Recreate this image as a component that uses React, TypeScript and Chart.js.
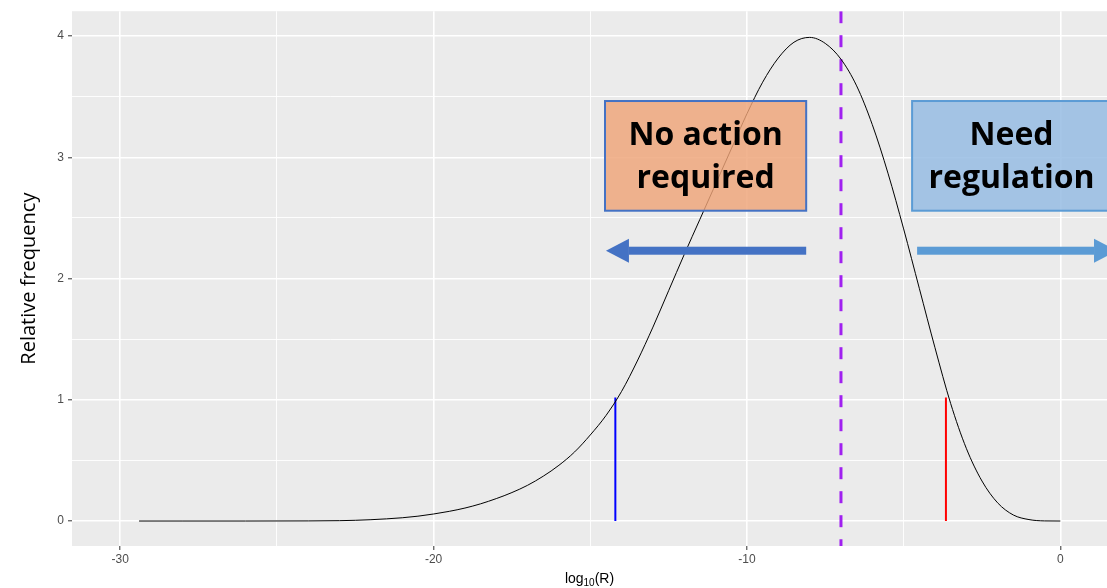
import React, { useEffect, useRef } from "react";
import { Chart, registerables } from "chart.js";

Chart.register(...registerables);

// Density of log10(R)
const curveX = [
  -29.4, -28, -26, -24, -23, -22.5, -22, -21.5, -21, -20.5, -20, -19.5, -19, -18.5, -18, -17.5, -17,
  -16.5, -16, -15.5, -15, -14.5, -14, -13.5, -13, -12.5, -12, -11.5, -11, -10.5, -10, -9.5, -9, -8.5,
  -8, -7.5, -7, -6.5, -6, -5.5, -5, -4.5, -4, -3.5, -3, -2.5, -2, -1.5, -1, -0.5, 0,
];
const curveY = [
  0, 0, 0, 0.001, 0.003, 0.006, 0.011, 0.018, 0.027, 0.04, 0.058, 0.08, 0.107, 0.142, 0.185, 0.235,
  0.295, 0.37, 0.46, 0.57, 0.71, 0.87, 1.07, 1.32, 1.6, 1.9, 2.2, 2.49, 2.78, 3.07, 3.36, 3.62, 3.82,
  3.95, 3.99, 3.94, 3.81, 3.59, 3.27, 2.87, 2.41, 1.92, 1.43, 0.97, 0.6, 0.33, 0.15, 0.05, 0.012,
  0.001, 0,
];

// Reference lines
const lowerLimitX = -14.2;
const upperLimitX = -3.65;
const limitHeight = 1.02;
const thresholdX = -7;

// Axes
const xRange = [-31.54, 1.49];
const yRange = [-0.206, 4.206];
const xMajorTicks = [-30, -20, -10, 0];
const xMinorTicks = [-25, -15, -5];
const yMajorTicks = [0, 1, 2, 3, 4];
const yMinorTicks = [0.5, 1.5, 2.5, 3.5];

// Call-out boxes and arrows (data units)
const boxLabels = [["No action", "required"], ["Need", "regulation"]];
const boxXFrom = [-14.53, -4.73];
const boxXTo = [-8.11, 1.62];
const boxYFrom = [2.56, 2.56];
const boxYTo = [3.465, 3.465];
const boxFills = ["rgba(238,164,120,0.82)", "rgba(146,186,226,0.82)"];
const boxStrokes = ["#4472C4", "#5B9BD5"];
const arrowFrom = [-8.11, -4.57];
const arrowTo = [-14.5, 1.81];
const arrowY = [2.23, 2.23];
const arrowColors = ["#4472C4", "#5B9BD5"];

const isMajor = (v: number, majors: number[]) => majors.some((m) => Math.abs(m - v) < 1e-9);

const panelPlugin = {
  id: "panelBackground",
  beforeDraw(chart: any) {
    const { ctx, chartArea: a } = chart;
    ctx.save();
    ctx.fillStyle = "#EBEBEB";
    ctx.fillRect(a.left, a.top, a.right - a.left, a.bottom - a.top);
    ctx.restore();
  },
};

const calloutPlugin = {
  id: "callouts",
  afterDatasetsDraw(chart: any) {
    const { ctx } = chart;
    const xs = chart.scales.x;
    const ys = chart.scales.y;
    ctx.save();
    // arrows
    for (let i = 0; i < arrowFrom.length; i++) {
      const x0 = xs.getPixelForValue(arrowFrom[i]);
      const x1 = xs.getPixelForValue(arrowTo[i]);
      const y = ys.getPixelForValue(arrowY[i]);
      const dir = Math.sign(x1 - x0);
      const headLen = 23;
      const headHalf = 12;
      const shaft = 8;
      const base = x1 - dir * headLen;
      ctx.fillStyle = arrowColors[i];
      ctx.fillRect(Math.min(x0, base), y - shaft / 2, Math.abs(base - x0), shaft);
      ctx.beginPath();
      ctx.moveTo(x1, y);
      ctx.lineTo(base, y - headHalf);
      ctx.lineTo(base, y + headHalf);
      ctx.closePath();
      ctx.fill();
    }
    // boxes
    for (let i = 0; i < boxLabels.length; i++) {
      const l = xs.getPixelForValue(boxXFrom[i]);
      const r = xs.getPixelForValue(boxXTo[i]);
      const t = ys.getPixelForValue(boxYTo[i]);
      const b = ys.getPixelForValue(boxYFrom[i]);
      ctx.fillStyle = boxFills[i];
      ctx.fillRect(l, t, r - l, b - t);
      ctx.strokeStyle = boxStrokes[i];
      ctx.lineWidth = 2;
      ctx.strokeRect(l, t, r - l, b - t);
      const cx = (l + r) / 2;
      const cy = (t + b) / 2;
      ctx.fillStyle = "#000000";
      ctx.font = 'bold 32px "Open Sans"';
      ctx.textAlign = "center";
      ctx.textBaseline = "alphabetic";
      ctx.fillText(boxLabels[i][0], cx, cy - 11);
      ctx.fillText(boxLabels[i][1], cx, cy + 32);
    }
    ctx.restore();
  },
};

const titlePlugin = {
  id: "axisTitles",
  afterDraw(chart: any) {
    const { ctx, chartArea: a } = chart;
    ctx.save();
    ctx.fillStyle = "#000000";
    // y title
    ctx.translate(35, (a.top + a.bottom) / 2);
    ctx.rotate(-Math.PI / 2);
    ctx.font = '20px "Open Sans"';
    ctx.textAlign = "center";
    ctx.textBaseline = "alphabetic";
    ctx.fillText("Relative frequency", 0, 0);
    ctx.restore();

    // x title: log10(R) with subscript
    ctx.save();
    ctx.fillStyle = "#000000";
    ctx.textBaseline = "alphabetic";
    ctx.textAlign = "left";
    const mainFont = '14px "Liberation Sans"';
    const subFont = '10px "Liberation Sans"';
    ctx.font = mainFont;
    const w1 = ctx.measureText("log").width;
    const w3 = ctx.measureText("(R)").width;
    ctx.font = subFont;
    const w2 = ctx.measureText("10").width;
    const total = w1 + w2 + w3;
    let x = (a.left + a.right) / 2 - total / 2;
    const base = 583;
    ctx.font = mainFont;
    ctx.fillText("log", x, base);
    x += w1;
    ctx.font = subFont;
    ctx.fillText("10", x, base + 3);
    x += w2;
    ctx.font = mainFont;
    ctx.fillText("(R)", x, base);
    ctx.restore();
  },
};

export default function App() {
  const canvasRef = useRef<HTMLCanvasElement | null>(null);

  useEffect(() => {
    const canvas = canvasRef.current;
    if (!canvas) return;

    const curve = curveX.map((x, i) => ({ x, y: curveY[i] }));

    const gridColor = "#FFFFFF";
    const tickFont = { family: '"Liberation Sans", Arial, sans-serif', size: 12 };

    const chart = new Chart(canvas, {
      type: "line",
      data: {
        datasets: [
          {
            data: curve,
            borderColor: "#000000",
            borderWidth: 1,
            pointRadius: 0,
            cubicInterpolationMode: "monotone",
          },
          {
            data: [
              { x: lowerLimitX, y: 0 },
              { x: lowerLimitX, y: limitHeight },
            ],
            borderColor: "#0000FF",
            borderWidth: 2,
            pointRadius: 0,
          },
          {
            data: [
              { x: upperLimitX, y: 0 },
              { x: upperLimitX, y: limitHeight },
            ],
            borderColor: "#FF0000",
            borderWidth: 2,
            pointRadius: 0,
          },
          {
            data: [
              { x: thresholdX, y: yRange[1] },
              { x: thresholdX, y: yRange[0] },
            ],
            borderColor: "#A020F0",
            borderWidth: 3,
            borderDash: [12, 12],
            pointRadius: 0,
          },
        ],
      },
      options: {
        animation: false,
        responsive: false,
        devicePixelRatio: 1,
        layout: { padding: { top: 10, left: 0, right: 0, bottom: 0 } },
        plugins: {
          legend: { display: false },
          tooltip: { enabled: false },
          title: { display: false },
        },
        scales: {
          x: {
            type: "linear",
            min: xRange[0],
            max: xRange[1],
            afterBuildTicks: (s: any) => {
              s.ticks = [...xMajorTicks, ...xMinorTicks].sort((a, b) => a - b).map((value) => ({ value }));
            },
            afterFit: (s: any) => {
              s.height = 42;
            },
            border: { display: false },
            grid: {
              color: gridColor,
              lineWidth: (c: any) => (isMajor(c.tick.value, xMajorTicks) ? 1.6 : 0.9),
              tickColor: (c: any) => (isMajor(c.tick.value, xMajorTicks) ? "#333333" : "rgba(0,0,0,0)"),
              tickLength: 4,
              tickWidth: 1,
            },
            ticks: {
              autoSkip: false,
              maxRotation: 0,
              padding: 2,
              color: "#4D4D4D",
              font: tickFont,
              callback: (v: any) => (isMajor(Number(v), xMajorTicks) ? String(v) : ""),
            },
          },
          y: {
            type: "linear",
            min: yRange[0],
            max: yRange[1],
            afterBuildTicks: (s: any) => {
              s.ticks = [...yMajorTicks, ...yMinorTicks].sort((a, b) => a - b).map((value) => ({ value }));
            },
            afterFit: (s: any) => {
              s.width = 72;
            },
            border: { display: false },
            grid: {
              color: gridColor,
              lineWidth: (c: any) => (isMajor(c.tick.value, yMajorTicks) ? 1.6 : 0.9),
              tickColor: (c: any) => (isMajor(c.tick.value, yMajorTicks) ? "#333333" : "rgba(0,0,0,0)"),
              tickLength: 4,
              tickWidth: 1,
            },
            ticks: {
              autoSkip: false,
              padding: 4,
              color: "#4D4D4D",
              font: tickFont,
              callback: (v: any) => (isMajor(Number(v), yMajorTicks) ? String(v) : ""),
            },
          },
        },
      },
      plugins: [panelPlugin, calloutPlugin, titlePlugin],
    } as any);

    return () => chart.destroy();
  }, []);

  return (
    <div style={{ position: "absolute", left: 0, top: 0, width: 1107, height: 588, background: "#FFFFFF" }}>
      <canvas ref={canvasRef} width={1107} height={588} style={{ display: "block", width: 1107, height: 588 }} />
    </div>
  );
}
